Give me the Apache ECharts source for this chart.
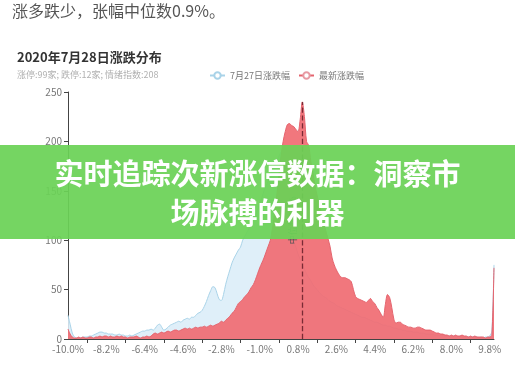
<!DOCTYPE html>
<html>
<head>
<meta charset="utf-8">
<script src="https://cdn.jsdelivr.net/npm/echarts@6/dist/echarts.min.js"></script>
<style>
  html, body { margin: 0; padding: 0; background: #fff; }
  #chart { width: 515px; height: 389px; }
</style>
</head>
<body>
<div id="chart"></div>
<script>
// Price-change buckets from -10.0% to 10.0% in 0.1% steps
const categories = [];
for (let k = -100; k <= 100; k++) categories.push((k / 10).toFixed(1) + '%');

// Number of stocks per bucket, previous session (7月27日)
const prevDay = [
  24, 15, 6, 2, 1, 1, 1, 2, 2, 2, 3, 3, 4, 5, 6, 7, 7, 6, 6, 5,
  5, 5, 4, 4, 5, 4, 4, 3, 3, 4, 3, 4, 5, 6, 7, 8, 8, 9, 9, 10,
  9, 11, 14, 15, 12, 9, 10, 12, 14, 15, 16, 17, 18, 17, 19, 20, 21, 20, 22, 22,
  24, 26, 27, 29, 33, 38, 44, 49, 53, 52, 46, 40, 39, 45, 55, 63, 70, 77, 82, 86,
  90, 93, 100, 104, 108, 112, 117, 121, 125, 131, 137, 143, 150, 155, 160, 166, 170, 175, 180, 185,
  189, 172, 150, 130, 116, 104, 98, 93, 86, 81, 75, 71, 66, 62, 59, 55, 52, 50, 47, 45,
  43, 42, 40, 38, 37, 36, 34, 33, 32, 31, 30, 29, 28, 27, 26, 25, 24, 23, 22, 22,
  21, 20, 19, 18, 17, 17, 16, 15, 14, 14, 13, 13, 12, 11, 11, 10, 10, 9, 9, 8,
  8, 8, 7, 7, 7, 6, 6, 6, 5, 5, 5, 5, 4, 4, 4, 4, 4, 3, 3, 3,
  3, 3, 3, 2, 3, 2, 2, 2, 2, 2, 2, 2, 2, 1, 2, 1, 2, 2, 3, 8,
  75
];

// Number of stocks per bucket, latest session
const latest = [
  10, 5, 2, 1, 1, 2, 1, 2, 1, 1, 2, 2, 1, 2, 2, 3, 2, 3, 3, 2,
  3, 2, 2, 3, 2, 3, 2, 2, 1, 2, 2, 2, 3, 2, 1, 2, 2, 3, 2, 3,
  5, 6, 5, 6, 7, 6, 7, 8, 7, 8, 9, 9, 8, 9, 10, 11, 10, 11, 10, 11,
  12, 11, 12, 12, 13, 12, 13, 14, 13, 14, 15, 16, 18, 17, 19, 21, 23, 26, 28, 32,
  36, 38, 40, 43, 45, 48, 52, 55, 60, 66, 72, 77, 82, 88, 94, 100, 112, 128, 145, 165,
  185, 200, 210, 217, 218, 216, 215, 212, 210, 222, 240, 225, 200, 196, 180, 168, 155, 145, 136, 128,
  118, 110, 102, 94, 82, 75, 70, 66, 63, 62, 62, 61, 60, 58, 50, 43, 41, 40, 39, 38,
  37, 39, 41, 38, 36, 32, 29, 25, 22, 35, 45, 42, 32, 20, 16, 17, 17, 15, 14, 13,
  12, 12, 11, 11, 12, 12, 11, 10, 9, 9, 9, 8, 7, 6, 6, 5, 5, 4, 4, 3,
  4, 3, 4, 3, 3, 4, 3, 3, 2, 3, 2, 3, 2, 2, 2, 2, 1, 2, 2, 4,
  72
];

const yTicks = [0, 50, 100, 150, 200, 250];
const medianBucket = '1.0%';
const medianPeak = 240;

const chart = echarts.init(document.getElementById('chart'), null, { renderer: 'canvas' });

chart.setOption({
  animation: false,
  backgroundColor: '#ffffff',
  title: {
    text: '2020年7月28日涨跌分布',
    subtext: '涨停:99家; 跌停:12家; 情绪指数:208',
    left: 12,
    top: 46,
    itemGap: 6,
    textStyle: { fontFamily: 'Noto Sans CJK SC', fontSize: 13, fontWeight: 'bold', color: '#333' },
    subtextStyle: { fontFamily: 'Noto Sans CJK SC', fontSize: 9, color: '#b0b0b0' }
  },
  legend: {
    left: 204,
    top: 66,
    itemWidth: 15,
    itemHeight: 8,
    itemGap: 8,
    textStyle: { fontFamily: 'Noto Sans CJK SC', fontSize: 9, color: '#777' },
    data: ['7月27日涨跌幅', '最新涨跌幅']
  },
  grid: { left: 68, right: 21, top: 92, bottom: 50 },
  xAxis: {
    type: 'category',
    boundaryGap: false,
    data: categories,
    axisLine: { lineStyle: { color: '#444', width: 1 } },
    axisTick: {
      length: 4,
      lineStyle: { color: '#444' },
      interval: function (idx) { return idx % 18 === 9; }
    },
    axisLabel: {
      interval: 17,
      color: '#777',
      fontSize: 10,
      fontFamily: 'Noto Sans CJK SC',
      margin: 5
    }
  },
  yAxis: {
    type: 'value',
    min: yTicks[0],
    max: yTicks[yTicks.length - 1],
    interval: 50,
    axisLine: { show: true, lineStyle: { color: '#444', width: 1 } },
    axisTick: { show: true, length: 4, lineStyle: { color: '#444' } },
    axisLabel: { color: '#777', fontSize: 10, fontFamily: 'Noto Sans CJK SC', margin: 6 },
    splitLine: { show: false }
  },
  series: [
    {
      name: '7月27日涨跌幅',
      type: 'line',
      data: prevDay,
      smooth: 0.3,
      symbol: 'emptyCircle',
      showSymbol: false,
      itemStyle: { color: '#a9d3e8' },
      lineStyle: { color: '#a9d3e8', width: 1 },
      areaStyle: { color: '#dcedf8', opacity: 0.9 },
      z: 2
    },
    {
      name: '最新涨跌幅',
      type: 'line',
      data: latest,
      smooth: 0.3,
      symbol: 'emptyCircle',
      showSymbol: false,
      itemStyle: { color: '#e79aa3' },
      lineStyle: { color: '#e4646e', width: 1 },
      areaStyle: { color: '#f06b72', opacity: 0.92 },
      z: 3,
      markLine: {
        silent: true,
        symbol: 'none',
        lineStyle: { color: '#7a2a35', type: 'dashed', width: 1.3 },
        label: {
          position: 'insideMiddleTop',
          formatter: '中位数0.9%',
          color: '#555',
          fontSize: 9,
          fontFamily: 'Noto Sans CJK SC'
        },
        data: [[
          { coord: [medianBucket, 0] },
          { coord: [medianBucket, medianPeak] }
        ]]
      }
    }
  ],
  graphic: [
    {
      type: 'text',
      left: 12,
      top: 3,
      style: {
        text: '涨多跌少，张幅中位数0.9%。',
        fill: '#555',
        font: '16px "Noto Sans CJK SC"'
      }
    },
    {
      type: 'rect',
      left: 0,
      top: 145,
      z: 100,
      shape: { width: 515, height: 94 },
      style: { fill: 'rgba(106,210,86,0.93)' }
    },
    {
      type: 'text',
      left: 'center',
      top: 154,
      z: 101,
      style: {
        text: '实时追踪次新涨停数据：洞察市\n场脉搏的利器',
        textAlign: 'center',
        fill: '#ffffff',
        font: 'bold 29px "Noto Sans CJK SC"',
        lineHeight: 39
      }
    }
  ]
});
</script>
</body>
</html>
